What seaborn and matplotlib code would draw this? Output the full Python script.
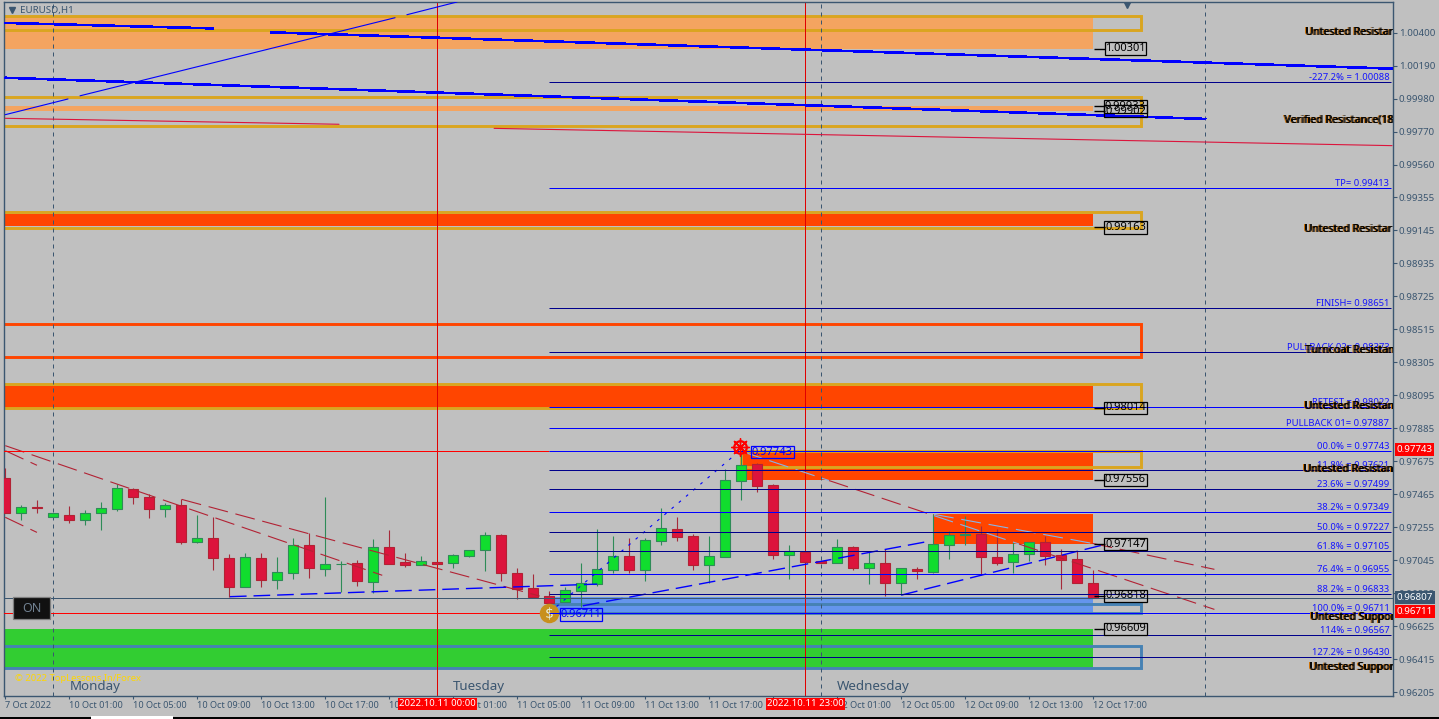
import numpy as np
import pandas as pd
import seaborn as sns
import matplotlib
matplotlib.use("Agg")
import matplotlib.pyplot as plt
from matplotlib.patches import Rectangle

# ---------- candles (EURUSD H1) ----------
opens = [.97566,.97348,.97381,.97322,.97331,.97303,.97348,.97373,.97496,.97447,.97373,.97394,.97163,.97184,.97057,.96877,.97057,.96921,.96966,.97140,.96991,.97019,.97025,.96908,.97127,.97031,.97017,.97031,.97025,.97074,
         .97108,.97204,.96962,.96866,.96818,.96779,.96852,.96896,.96985,.97070,.96985,.97170,.97242,.97197,.97017,.97068,.97552,.97656,.97522,.97081,.97100,.97038,.97030,.97127,.96998,.97025,.96902,.96989,.96972,.97144,.97204,.97212,.97066,.97036,.97083,.97159,.97076,.97051,.96898]
highs = [.97630,.97396,.97428,.97343,.97390,.97365,.97415,.97530,.97507,.97464,.97407,.97432,.97333,.97318,.97085,.97093,.97089,.97065,.97186,.97216,.97447,.97042,.97046,.97180,.97237,.97091,.97072,.97031,.97082,.97108,
         .97225,.97212,.96996,.96958,.96847,.96873,.97025,.97242,.97197,.97185,.97185,.97375,.97318,.97210,.97197,.97624,.97736,.97662,.97530,.97140,.97100,.97038,.97180,.97134,.97100,.97115,.96994,.97004,.97337,.97233,.97327,.97263,.97242,.97163,.97163,.97199,.97115,.97106,.96983]
lows = [.97348,.97301,.97343,.97322,.97284,.97271,.97237,.97360,.97405,.97314,.97322,.97148,.97157,.96983,.96813,.96877,.96874,.96862,.96925,.96932,.96945,.96841,.96881,.96838,.97023,.97004,.97015,.97023,.96998,.97065,
        .96979,.96913,.96801,.96811,.96760,.96779,.96750,.96881,.96962,.96964,.96913,.97142,.97168,.96983,.96898,.97068,.97429,.97482,.97053,.96926,.97036,.97030,.97030,.96983,.96894,.96820,.96824,.96926,.96964,.97053,.97144,.96949,.97015,.96966,.97042,.97015,.96862,.96898,.96803]
closes = [.97348,.97381,.97377,.97343,.97303,.97343,.97375,.97502,.97449,.97373,.97394,.97163,.97184,.97061,.96877,.97063,.96921,.96968,.97140,.96998,.97019,.97023,.96915,.97127,.97023,.97017,.97038,.97023,.97076,.97108,
          .97204,.96966,.96864,.96811,.96771,.96854,.96898,.96987,.97070,.96985,.97172,.97248,.97195,.97015,.97070,.97554,.97649,.97520,.97081,.97102,.97036,.97030,.97127,.96998,.97025,.96902,.96994,.96979,.97146,.97204,.97212,.97068,.97030,.97083,.97159,.97074,.97049,.96902,.96807]

# ---------- zones: (left bar, right bar, low, high) ----------
fill_light = [(-1,68,1.00301,1.00508),(-1,68,.99903,.99935)]
fill_red = [(-1,68,.99172,.99250),(-1,68,.98014,.98154),(46.1,68,.97555,.97735),(58,68,.97148,.97339)]
fill_blue = [(34,68,.96707,.96813)]
fill_green = [(-1,68,.96356,.96607)]
box_gold = [(-1,71,1.00417,1.00508),(-1,71,.99805,.99991),(-1,71,.99162,.99259),(-1,71,.98013,.98166),(46,71,.97636,.97743)]
box_red = [(-1,71,.98336,.98546)]
box_steel = [(34,71,.96707,.96769),(-1,71,.96356,.96497)]

# ---------- Fibonacci / target levels ----------
fib_labels = ["-227.2% = 1.00088","TP= 0.99413","FINISH= 0.98651","PULLBACK 02= 0.98373","RETEST = 0.98022","PULLBACK 01= 0.97887",
              "00.0% = 0.97743","11.8% = 0.97621","23.6% = 0.97499","38.2% = 0.97349","50.0% = 0.97227","61.8% = 0.97105",
              "76.4% = 0.96955","88.2% = 0.96833","100.0% = 0.96711","114% = 0.96567","127.2% = 0.96430"]
fib_prices = [1.00088,.99413,.98651,.98373,.98022,.97887,.97743,.97621,.97499,.97349,.97227,.97105,.96955,.96833,.96711,.96567,.96430]
fib_bright = [0,1,0,0,1,1,1,0,0,1,0,0,1,0,1,0,0]

# ---------- trend lines: bars, prices ----------
blue_thick = [([-.02,13.0],[1.00464,1.00429]),([16.6,86.67],[1.00404,1.00173]),([0,75],[1.00115,.99853])]
crimson_thin = [([0,20.86],[.99857,.99819]),([30.55,86.67],[.99793,.99683])]
blue_diag = [([0,3.92],[.99880,.99980]),([4.67,24.36],[1.00000,1.00497]),([25.1,28.23],[1.00516,1.00597])]
red_dash = [([0,23.56],[.97774,.96949]),([11.03,33.4],[.97432,.96817]),([0,1.98],[.97742,.97649]),([0,1.98],[.97318,.97222]),
            ([51.48,58.04],[.97552,.97329]),([63.36,75.57],[.97148,.96732]),([67.95,75.57],[.97152,.96987])]
pale_dash = [([46.1,51.48],[.97735,.97552]),([58.04,63.36],[.97329,.97148]),([58.04,67.95],[.97337,.97152])]
blue_dash = [([14.04,37],[.96813,.96893]),([36.1,57.6],[.96755,.97163]),([56,68.6],[.96823,.97142])]
fibo_swing = ([34,45.92],[.96711,.97743])

# ---------- text ----------
zone_tags = [("1.00301",1.00301),("0.99933",.99933),("0.99902",.99902),("0.99163",.99163),("0.98014",.98014),
             ("0.97556",.97556),("0.97147",.97147),("0.96818",.96818),("0.96609",.96609)]
zone_names = [("Untested Resistar",1305,1.00400),("Verified Resistance(18",1284,.99846),("Untested Resistar",1304,.99151),
              ("Turncoat Resistan",1305,.98378),("Untested Resistan",1304,.98021),("Untested Resistan",1303,.97622),
              ("Untested Suppor",1310,.96678),("Untested Support",1309,.96360)]
y_ticks = [1.004,1.0019,.9998,.9977,.9956,.99355,.99145,.98935,.98725,.98515,.98305,.98095,.97885,.97675,.97465,.97255,.97045,.96835,.96625,.96415,.96205]
x_ticks = list(range(0,69,4))
x_labels = ["7 Oct 2022","10 Oct 01:00","10 Oct 05:00","10 Oct 09:00","10 Oct 13:00","10 Oct 17:00","10 Oct 21:00",
            "11 Oct 01:00","11 Oct 05:00","11 Oct 09:00","11 Oct 13:00","11 Oct 17:00","11 Oct 21:00",
            "12 Oct 01:00","12 Oct 05:00","12 Oct 09:00","12 Oct 13:00","12 Oct 17:00"]
day_names = [("Monday",4),("Tuesday",28),("Wednesday",52)]

SLATE = "#3b5670"
BG = "#c0c0c0"
sns.set_theme(style="white", rc={"axes.facecolor":BG,"figure.facecolor":BG,"savefig.facecolor":BG})
plt.rcParams["font.family"] = ["Noto Sans","DejaVu Sans"]

fig = plt.figure(figsize=(14.39,7.19), dpi=100)
ax = fig.add_axes([4/1439,23/719,1388.5/1439,694/719])
XMIN, XMAX, YMIN, YMAX = -0.08, 86.7, .96181, 1.00597

def bx(px):
    return (px-5.3)/16

def rects(items, **kw):
    for l,r,lo,hi in items:
        ax.add_patch(Rectangle((l,lo),r-l,hi-lo,**kw))

rects(fill_light, fc="#f4a460", ec="none", zorder=1)
rects(fill_red, fc="#ff4500", ec="none", zorder=1)
rects(fill_blue, fc="#6495ed", ec="none", zorder=1)
rects(fill_green, fc="#32cd32", ec="none", zorder=1)
rects(box_gold, fc="none", ec="#daa520", lw=2.1, zorder=1.5)
rects(box_red, fc="none", ec="#ff4500", lw=2.1, zorder=1.5)
rects(box_steel, fc="none", ec="#4682b4", lw=2.1, zorder=1.5)

# dashed day separators and the two red session lines
for b in (3,51,75):
    ax.axvline(b,color=SLATE,lw=.72,ls=(0,(4,4)),zorder=1.8)
for b in (27,50):
    ax.axvline(b,color="#e00000",lw=.72,zorder=1.8)

# candles
idx = np.arange(len(opens))
o,h,l,c = map(np.array,(opens,highs,lows,closes))
up = c>=o
w1 = ax.vlines(idx[up],l[up],h[up],color="#2e8b57",lw=.8,zorder=3); w1.set_snap(True)
w2 = ax.vlines(idx[~up],l[~up],h[~up],color="#a52a3a",lw=.8,zorder=3); w2.set_snap(True)
ax.bar(idx[up],(c-o)[up],bottom=o[up],width=.63,color="#11dd2e",edgecolor="#2e8b57",linewidth=.8,zorder=3.1)
ax.bar(idx[~up],(c-o)[~up],bottom=o[~up],width=.63,color="#dc143c",edgecolor="#b22234",linewidth=.8,zorder=3.1)

def draw(seg,color,lw,ls="-",z=4,aa=True):
    sns.lineplot(x=seg[0],y=seg[1],ax=ax,color=color,linewidth=lw,linestyle=ls,antialiased=aa,
                 estimator=None,sort=False,legend=False,zorder=z)

def hline(p,a,b,color,z=4,lw=.72):
    art = ax.hlines(p,a,b,color=color,lw=lw,zorder=z)
    art.set_snap(True)

for s in blue_thick: draw(s,"#0000ff",1.15,aa=False)
for s in crimson_thin: draw(s,"#dc143c",.8)
for s in blue_diag: draw(s,"#0000ff",.8)
for s in red_dash: draw(s,"#b22234",.8,(0,(18,7)))
for s in pale_dash: draw(s,"#87b5e8",.8,(0,(18,7)))
for s in blue_dash: draw(s,"#0000ff",1.0,(0,(12,5)))
draw(fibo_swing,"#0000ff",.8,(0,(2.5,6)))

# horizontal levels
hline(.97743,-1,34,"#ff0000")
hline(.96711,-1,34,"#ff0000")
hline(.96807,XMIN,XMAX,SLATE)
for lab,p,br in zip(fib_labels,fib_prices,fib_bright):
    hline(p,34,86.6,"#0000ff" if br else "#00008b",5)
    ax.annotate(lab,(86.5,p),xytext=(0,0),textcoords="offset points",ha="right",va="bottom",
                fontsize=6.8,color="#1414ff",zorder=5)

# zone names: shaded bold, cut at the chart edge
for name,px,p in zone_names:
    for off,col in ((-.6,"#d07000"),(0,"#000000"),(.4,"#000000")):
        t = ax.annotate(name,(bx(px),p),xytext=(off,0),textcoords="offset points",ha="left",va="center",
                        fontsize=7.6,fontweight="bold",color=col,zorder=6,annotation_clip=False)
        t.set_clip_on(True)
        t.set_clip_path(ax.patch)

# zone price tags
for s,p in zone_tags:
    hline(p,68.05,68.75,"black",7,1)
    ax.text(bx(1125.5),p,s,fontsize=8,color="black",ha="center",va="center",zorder=7,
            bbox=dict(boxstyle="square,pad=0.06",fc="none",ec="black",lw=.9))
for s,b,p in (("0.97743",bx(772.5),.97733),("0.96711",bx(581),.96700)):
    ax.text(b,p,s,fontsize=8,color="#0000ff",ha="center",va="center",zorder=7,
            bbox=dict(boxstyle="square,pad=0.06",fc="none",ec="#0000ff",lw=.9))

# start/end icons
ax.plot([34],[.96711],marker="o",ms=14,color="#c8901c",mew=0,zorder=4.5)
ax.plot([34],[.96711],marker="$\\$$",ms=9,color="#e8f5e8",mew=0,zorder=4.6)
ax.plot([45.92],[.97765],marker="o",ms=9,mfc="none",mec="#ff0000",mew=1.6,zorder=8)
ax.plot([45.92],[.97765],marker=(8,2,0),ms=13,color="#ff0000",mew=1,zorder=8)

# chart furniture
ax.plot([bx(12)],[1.00545],marker="v",ms=4,color=SLATE,zorder=8)
ax.text(bx(20),1.00545,"EURUSD,H1",fontsize=7,color=SLATE,ha="left",va="center",zorder=8)
ax.plot([bx(1127)],[1.00578],marker="v",ms=5,color=SLATE,zorder=8)
for name,b in day_names:
    ax.text(b,.96240,name,fontsize=9.6,color=SLATE,ha="left",va="center",zorder=8)
ax.text(bx(15),.96295,"© 2022 TopLessons.In/Forex",fontsize=6.8,color="#ffd700",ha="left",va="center",zorder=8)
ax.add_patch(Rectangle((bx(13),.96669),bx(50)-bx(13),.00143,fc="#111111",ec="#808080",lw=.9,zorder=8))
ax.text(bx(31.5),.96740,"ON",fontsize=9,color="#708090",ha="center",va="center",zorder=9)

# axes
ax.set_xlim(XMIN,XMAX)
ax.set_ylim(YMIN,YMAX)
ax.set_xlabel("")
ax.set_ylabel("")
ax.yaxis.tick_right()
ax.set_yticks(y_ticks)
ax.set_yticklabels([f"{v:.5f}" for v in y_ticks])
ax.set_xticks(x_ticks)
ax.set_xticklabels(x_labels,ha="left")
ax.tick_params(axis="y",length=3,width=.8,color=SLATE,labelcolor=SLATE,labelsize=7,pad=1.5,right=True)
ax.tick_params(axis="x",length=2.5,width=.8,color=SLATE,labelcolor=SLATE,labelsize=6.6,pad=1.2,bottom=True)
for sp in ax.spines.values():
    sp.set_color(SLATE)
    sp.set_linewidth(1)
ax.grid(False)

# red / slate price flags
for s,p,col in (("0.97743",.97750,"#ff0000"),("0.96711",.96718,"#ff0000"),("0.96807",.96807,SLATE)):
    ax.text(bx(1396.5),p,s,fontsize=7,color="white",ha="left",va="center",zorder=12,clip_on=False,
            bbox=dict(boxstyle="square,pad=0.2",fc=col,ec="none"))
# date flags under the red lines
for s,b in (("2022.10.11 00:00",27),("2022.10.11 23:00",50)):
    ax.text(b,.96181-.00050,s,fontsize=6.9,color="white",ha="center",va="center",zorder=12,clip_on=False,
            bbox=dict(boxstyle="square,pad=0.14",fc="#ff0000",ec="none"))

# strip along the bottom of the window
fig.add_artist(Rectangle((0,0),1,2/719,transform=fig.transFigure,fc="black",ec="none"))
fig.add_artist(Rectangle((91/1439,0),82/1439,3/719,transform=fig.transFigure,fc="white",ec="none"))

fig.savefig("out.png",dpi=100)
